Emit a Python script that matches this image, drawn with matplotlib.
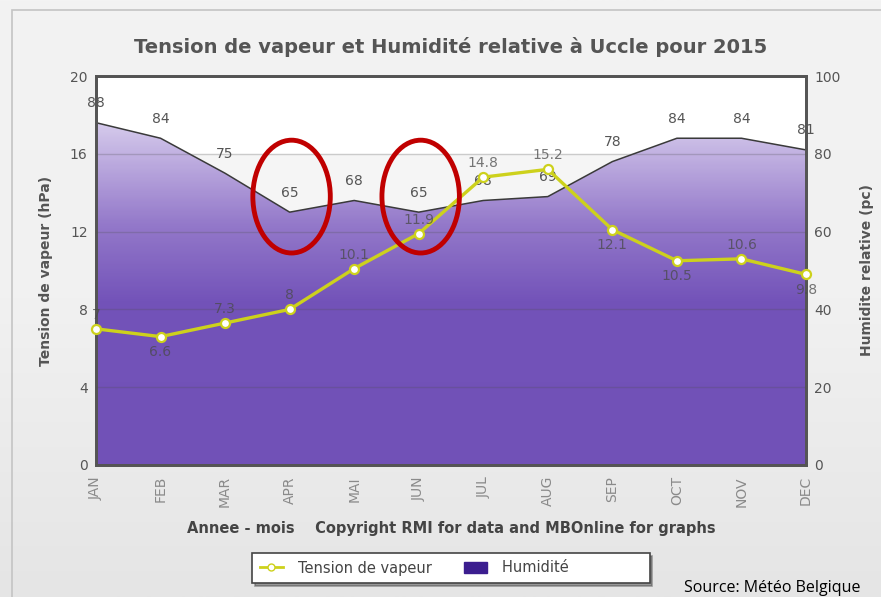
import numpy as np
import matplotlib
matplotlib.use("Agg")
import matplotlib.pyplot as plt
import matplotlib.patches as patches
from matplotlib.colors import LinearSegmentedColormap
from matplotlib.lines import Line2D

# --- données ---
mois = ["JAN", "FEB", "MAR", "APR", "MAI", "JUN", "JUL", "AUG", "SEP", "OCT", "NOV", "DEC"]
tension = [7, 6.6, 7.3, 8, 10.1, 11.9, 14.8, 15.2, 12.1, 10.5, 10.6, 9.8]
humidite = [88, 84, 75, 65, 68, 65, 68, 69, 78, 84, 84, 81]
mois_entoures = ["APR", "JUN"]

# placement des étiquettes de la tension (au-dessus / en dessous)
pos_labels = ["up", "down", "up", "up", "up", "up", "up", "up", "down", "down", "up", "down"]

TXT = "#555555"
JAUNE = "#CDD11C"

fig = plt.figure(figsize=(8.81, 5.97), dpi=100)
fig.patch.set_facecolor("#F2F2F2")

# fond du panneau (léger dégradé) + bordure
bg = fig.add_axes([0, 0, 1, 1], zorder=-10)
bg.axis("off")
grad = np.linspace(0, 1, 256).reshape(-1, 1)
bg_cmap = LinearSegmentedColormap.from_list("bg", ["#F3F3F3", "#F1F1F1", "#E5E5E5"])
bg.imshow(grad, aspect="auto", cmap=bg_cmap, extent=[0, 1, 0, 1], origin="upper")
bg.set_xlim(0, 1)
bg.set_ylim(0, 1)
bg.add_patch(patches.Rectangle((12 / 881, -0.1), 1.2, 1.1 - 10 / 597, fill=False,
                               ec="#C4C4C4", lw=1.2))

ax = fig.add_axes([96 / 881, 132 / 597, 710 / 881, 389 / 597])
ax2 = ax.twinx()
ax.set_zorder(ax2.get_zorder() + 1)
ax.patch.set_visible(False)

x = np.arange(len(mois))

# --- humidité (aire en dégradé, axe droit) ---
ax2.patch.set_visible(True)
ax2.set_facecolor("white")
ax2.axhspan(60, 80, color="#F5F5F5", zorder=0)
ax2.axhspan(20, 40, color="#F5F5F5", zorder=0)
area = ax2.fill_between(x, humidite, 0, color="none", lw=0, zorder=1)
hum_cmap = LinearSegmentedColormap.from_list(
    "hum", [(0, "#7151B7"), (0.42, "#7353B9"), (0.62, "#9479CA"), (0.9, "#DAD0EE"), (1, "#E4DCF2")])
img = ax2.imshow(np.linspace(0, 1, 300).reshape(-1, 1), aspect="auto", cmap=hum_cmap,
                 extent=[x[0], x[-1], 0, 100], origin="lower", zorder=1)
img.set_clip_path(area.get_paths()[0], transform=ax2.transData)
ax2.plot(x, humidite, color="#3A3A3A", lw=1.1, zorder=2)
for xi, h in zip(x, humidite):
    ax2.annotate(str(h), (xi, h), xytext=(0, 9), textcoords="offset points",
                 ha="center", va="bottom", fontsize=10, color=TXT, zorder=3)

ax2.set_ylim(0, 100)
ax2.set_yticks([0, 20, 40, 60, 80, 100])
ax2.set_ylabel("Humidite relative (pc)", fontsize=10, fontweight="bold", color=TXT,
               rotation=90, labelpad=14)

# --- tension de vapeur (axe gauche) ---
ax.plot(x, tension, color=JAUNE, lw=2.4, marker="o", ms=6.5, mfc="white",
        mec=JAUNE, mew=1.6, zorder=5, clip_on=False)
for xi, t, p in zip(x, tension, pos_labels):
    dy = 5 if p == "up" else -6
    ax.annotate(f"{t:g}", (xi, t), xytext=(0, dy), textcoords="offset points",
                ha="center", va="bottom" if p == "up" else "top",
                fontsize=10, color="#4A4A4A", alpha=0.75, zorder=6)

ax.set_xlim(x[0], x[-1])
ax.set_ylim(0, 20)
ax.set_yticks([0, 4, 8, 12, 16, 20])
ax.set_xticks(x)
ax.set_xticklabels(mois, rotation=90, color="#8A8A8A", fontsize=9.5)
ax.grid(axis="y", color="#505050", alpha=0.25, lw=1)
ax.set_axisbelow(False)
ax.set_ylabel("Tension de vapeur (hPa)", fontsize=10, fontweight="bold", color=TXT, labelpad=12)
ax.set_xlabel("Annee - mois    Copyright RMI for data and MBOnline for graphs",
              fontsize=10.5, fontweight="bold", color="#444444", labelpad=10)

for a in (ax, ax2):
    a.tick_params(length=0, labelsize=10, colors=TXT, pad=6)
    for s in a.spines.values():
        s.set_color("#555555")
        s.set_linewidth(2)
ax.tick_params(axis="x", colors="#8A8A8A", pad=8)

# --- ellipses rouges ---
for m in mois_entoures:
    i = mois.index(m)
    ax.add_patch(patches.Ellipse((i + 0.03, 13.8), 1.2, 5.8, fill=False,
                                 ec="#C00000", lw=3.5, zorder=8))

fig.text(451 / 881, 1 - 47 / 597, "Tension de vapeur et Humidité relative à Uccle pour 2015",
         ha="center", va="center", fontsize=14, fontweight="bold", color=TXT)

# --- légende ---
h1 = Line2D([], [], color=JAUNE, lw=2, marker="o", ms=5, mfc="white", mec=JAUNE)
h2 = patches.Patch(facecolor="#3B1D8F", edgecolor="#3B1D8F")
leg = fig.legend([h1, h2], ["Tension de vapeur", "Humidité"], loc="center",
                 bbox_to_anchor=(451 / 881, 1 - 568 / 597), ncol=2, fontsize=10.5,
                 frameon=True, fancybox=False, shadow=True, handlelength=1.6,
                 handletextpad=1.0, columnspacing=2.2, borderpad=0.5,
                 borderaxespad=0)
leg.get_frame().set_edgecolor("#444444")
leg.get_frame().set_linewidth(1.2)
for t in leg.get_texts():
    t.set_color("#444444")
# texte "Humidité" suivi d'un espace vide comme dans l'original
leg.get_texts()[1].set_text("Humidité" + " " * 16)

fig.text(860 / 881, 1 - 588 / 597, "Source: Météo Belgique", ha="right", va="center",
         fontsize=11.5, color="black", family=["Open Sans", "DejaVu Sans"])

fig.savefig("out.png", dpi=100, facecolor=fig.get_facecolor())
